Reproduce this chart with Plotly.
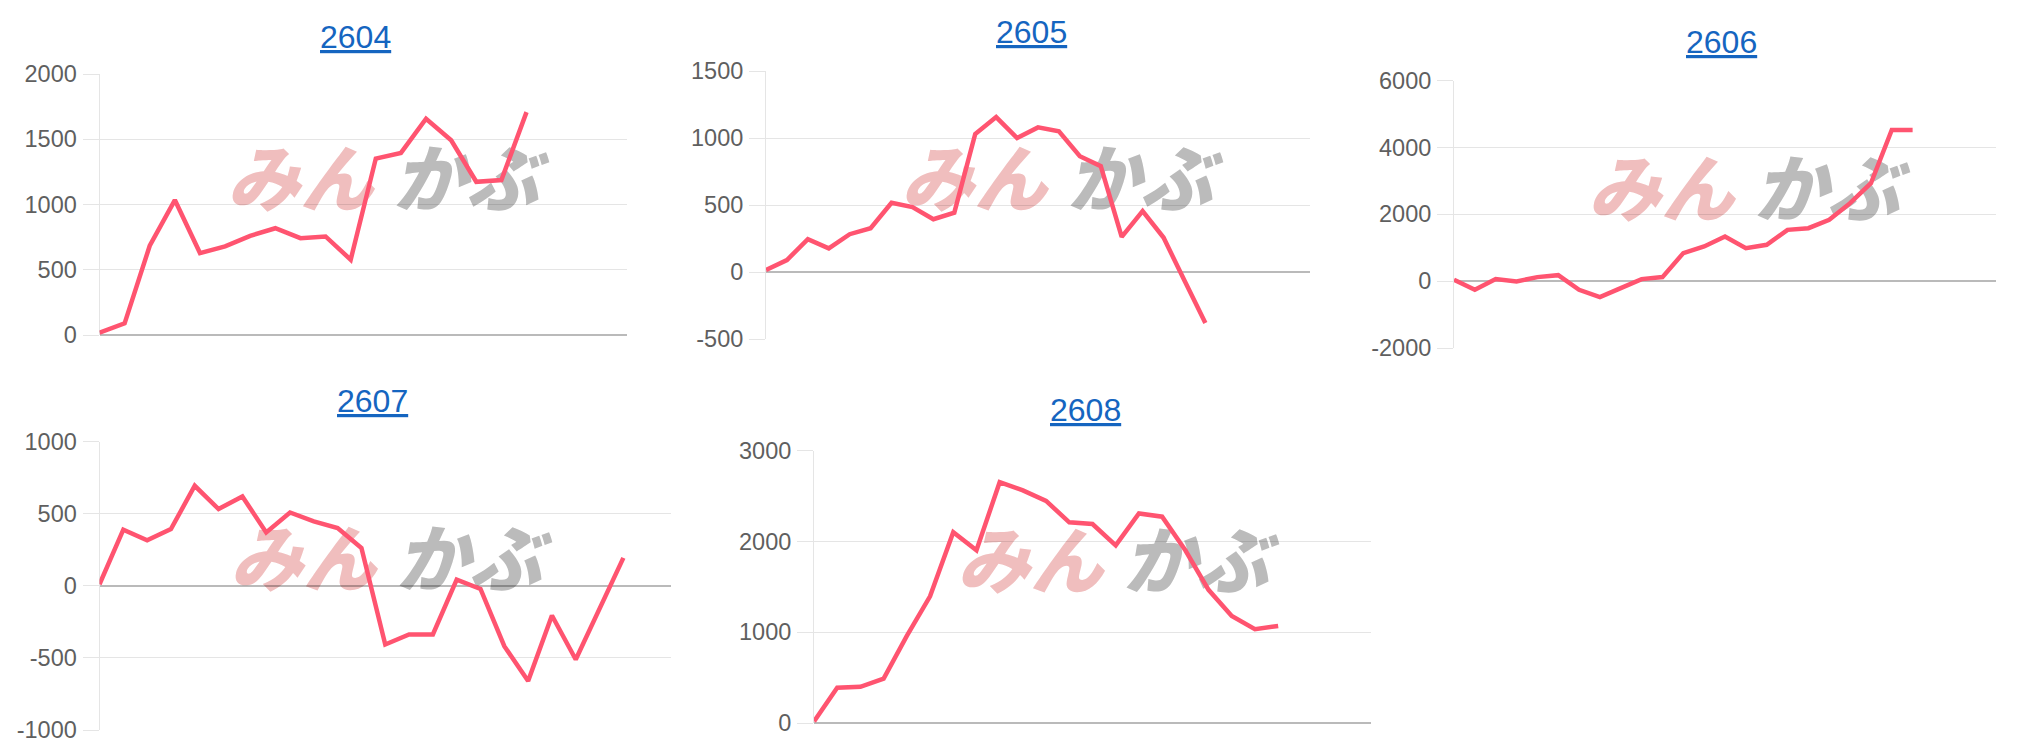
import plotly.graph_objects as go

W, H = 2036, 753

# ---- data ----
titles = ["2604", "2605", "2606", "2607", "2608"]

s2604 = [18, 89, 684, 1034, 628, 679, 760, 818, 742, 755, 577, 1352, 1395, 1657, 1492, 1174, 1187, 1708]
s2605 = [15, 89, 245, 176, 282, 327, 517, 485, 394, 443, 1030, 1156, 1000, 1079, 1050, 864, 790, 262, 455, 257, -64, -381]
s2606 = [40, -259, 60, -10, 120, 179, -259, -478, -209, 60, 120, 837, 1036, 1335, 986, 1086, 1534, 1584, 1833, 2331, 2928, 4522, 4522]
s2607 = [10, 389, 315, 393, 693, 532, 619, 370, 508, 446, 400, 262, -407, -338, -338, 43, -22, -419, -661, -206, -511, -155, 193]
s2608 = [18, 388, 399, 489, 960, 1395, 2101, 1902, 2652, 2562, 2446, 2210, 2192, 1957, 2308, 2272, 1902, 1467, 1178, 1033, 1069]

ticks2604 = [0, 500, 1000, 1500, 2000]
ticks2605 = [-500, 0, 500, 1000, 1500]
ticks2606 = [-2000, 0, 2000, 4000, 6000]
ticks2607 = [-1000, -500, 0, 500, 1000]
ticks2608 = [0, 1000, 2000, 3000]

# number of category slots on each x axis
xspan = [21, 26, 26, 24, 24]

series = [s2604, s2605, s2606, s2607, s2608]
tickset = [ticks2604, ticks2605, ticks2606, ticks2607, ticks2608]

# ---- layout (pixels) ----
plot_px = [  # x0, x1, ytop, ybottom
    (99.5, 627, 74, 335),
    (766, 1310, 71, 339),
    (1454, 1996, 80.5, 348),
    (99.5, 671, 441.5, 730),
    (814, 1371, 450.6, 723),
]
title_px = [(355, 37), (1031, 32), (1721, 42.5), (372, 401), (1085, 410.5)]
logo_px = [(220, 186), (894, 186), (1581, 196), (223, 566), (950, 568)]  # left, center y

LINE = "rgb(255,84,112)"
GRID = "rgba(0,0,0,0.1)"
ZERO = "rgba(0,0,0,0.27)"
FONT = "Liberation Sans, Arial, Helvetica, sans-serif"

fig = go.Figure()
shapes = []
annotations = []

for i, vals in enumerate(series):
    k = "" if i == 0 else str(i + 1)
    x0, x1, yt, yb = plot_px[i]
    fig.add_trace(go.Scatter(
        x=list(range(len(vals))), y=vals, mode="lines",
        line=dict(color=LINE, width=4.5), xaxis="x" + k, yaxis="y" + k,
        showlegend=False, hoverinfo="skip",
    ))
    tv = tickset[i]
    fig.update_layout(**{
        "xaxis" + k: dict(
            domain=[x0 / W, x1 / W], range=[0, xspan[i]], anchor="y" + k,
            showgrid=False, zeroline=False, showticklabels=False, ticks="",
            showline=False, fixedrange=True, automargin=False,
        ),
        "yaxis" + k: dict(
            domain=[1 - yb / H, 1 - yt / H], range=[tv[0], tv[-1]], anchor="x" + k,
            tickmode="array", tickvals=tv, ticktext=[str(v) for v in tv],
            showgrid=True, gridcolor=GRID, gridwidth=1,
            zeroline=True, zerolinecolor=ZERO, zerolinewidth=1.5,
            showline=True, linecolor=GRID, linewidth=1,
            ticks="outside", ticklen=16, tickcolor=GRID, tickwidth=1,
            ticklabelstandoff=1,
            tickfont=dict(family=FONT, size=23.5, color="#5f5f5f"),
            fixedrange=True, automargin=False,
        ),
    })
    tx, ty = title_px[i]
    annotations.append(dict(
        xref="paper", yref="paper", x=tx / W, y=1 - ty / H,
        xanchor="center", yanchor="middle", showarrow=False,
        text="<span style='text-decoration:underline'>%s</span>" % titles[i],
        font=dict(family=FONT, size=32, color="#1565c0"),
    ))
    lx, ly = logo_px[i]
    # watermark: pink "みん" + gray "かぶ", drawn below the line
    shapes.append(dict(
        type="rect", xref="paper", yref="paper", layer="between",
        x0=lx / W, x1=(lx + 160) / W, y0=1 - (ly + 30) / H, y1=1 - (ly - 30) / H,
        line=dict(width=0), fillcolor="rgba(0,0,0,0)",
        label=dict(text="みん", textposition="middle center",
                   font=dict(family="Noto Sans CJK JP", size=73, color="rgb(240,190,190)",
                             weight=900, style="italic")),
    ))
    shapes.append(dict(
        type="rect", xref="paper", yref="paper", layer="between",
        x0=(lx + 160) / W, x1=(lx + 332) / W, y0=1 - (ly + 30) / H, y1=1 - (ly - 30) / H,
        line=dict(width=0), fillcolor="rgba(0,0,0,0)",
        label=dict(text="かぶ", textposition="middle center",
                   font=dict(family="Noto Sans CJK JP", size=73, color="rgb(187,187,187)",
                             weight=900, style="italic")),
    ))

fig.update_layout(
    template="none",
    width=W, height=H, autosize=False, margin=dict(l=0, r=0, t=0, b=0, pad=0),
    paper_bgcolor="white", plot_bgcolor="white",
    shapes=shapes, annotations=annotations, showlegend=False,
)

fig.write_html("out.html", config={"displayModeBar": False, "responsive": False})
